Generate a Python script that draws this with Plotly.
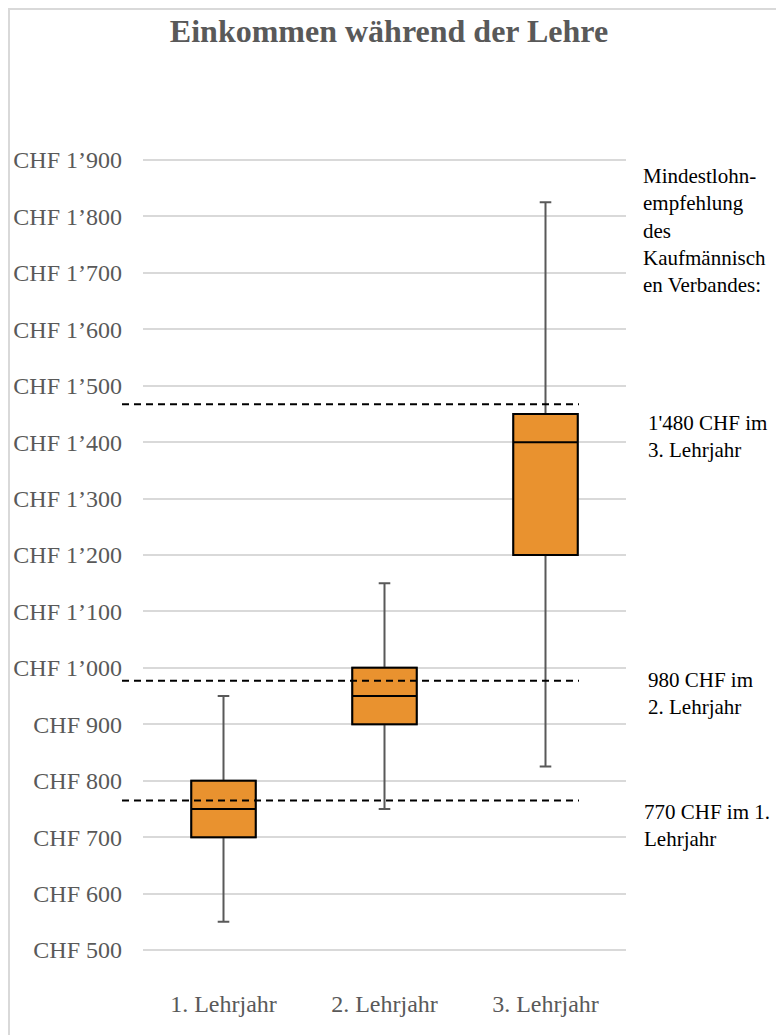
import plotly.graph_objects as go

# ---- data ----
categories = ["1. Lehrjahr", "2. Lehrjahr", "3. Lehrjahr"]
lower_fence = [550, 750, 825]
q1 = [700, 900, 1200]
median = [750, 950, 1400]
q3 = [800, 1000, 1450]
upper_fence = [950, 1150, 1825]

ref_values = [765, 977, 1467]
ref_labels = ["770 CHF im 1.<br>Lehrjahr", "980 CHF im<br>2. Lehrjahr", "1'480 CHF im<br>3. Lehrjahr"]

tick_vals = [500, 600, 700, 800, 900, 1000, 1100, 1200, 1300, 1400, 1500, 1600, 1700, 1800, 1900]
tick_text = ["CHF 500", "CHF 600", "CHF 700", "CHF 800", "CHF 900", "CHF 1\u2019000", "CHF 1\u2019100",
             "CHF 1\u2019200", "CHF 1\u2019300", "CHF 1\u2019400", "CHF 1\u2019500", "CHF 1\u2019600",
             "CHF 1\u2019700", "CHF 1\u2019800", "CHF 1\u2019900"]
y_range = [496.5, 1903.5]

title_text = "Einkommen während der Lehre"
note_text = "Mindestlohn-<br>empfehlung<br>des<br>Kaufmännisch<br>en Verbandes:"

FONT = "Liberation Serif, Times New Roman, serif"
GRAY = "#595959"
ORANGE = "#E9922F"

# figure sits at an 8px page offset
W, H = 776, 1027
L, R, T, B = 114, 158, 150, 83
pw, ph = W - L - R, H - T - B
grid_left = 135      # where the category plot area starts (figure px)
dash_right = 571     # where reference lines end (figure px)


def px_x(px):
    return (px - L) / pw


def px_y(py):
    return (H - B - py) / ph


fig = go.Figure()

# whiskers (gray)
fig.add_trace(go.Box(
    x=categories, q1=q1, median=median, q3=q3,
    lowerfence=lower_fence, upperfence=upper_fence,
    width=0.4, whiskerwidth=0.18,
    line=dict(color=GRAY, width=2), fillcolor=ORANGE,
    boxpoints=False, hoverinfo="skip", showlegend=False,
))
# box (black outline)
fig.add_trace(go.Box(
    x=categories, q1=q1, median=median, q3=q3,
    lowerfence=q1, upperfence=q3,
    width=0.4, whiskerwidth=0,
    line=dict(color="black", width=2), fillcolor=ORANGE,
    boxpoints=False, showlegend=False,
))

# reference dashed lines on an auxiliary overlaid subplot
for v in ref_values:
    fig.add_trace(go.Scatter(
        x=[0, 1], y=[v, v], mode="lines", xaxis="x2", yaxis="y2",
        line=dict(color="black", width=2, dash="7px,5px"),
        hoverinfo="skip", showlegend=False,
    ))

# reference labels
label_centers = [812, 680, 423]   # first-line centres in page px
label_x = [634, 638, 638]
for lab, c, lx in zip(ref_labels, label_centers, label_x):
    fig.add_annotation(text=lab, xref="paper", yref="paper",
                       x=px_x(lx), y=px_y(c - 22), xanchor="left", yanchor="top",
                       align="left", showarrow=False,
                       font=dict(family=FONT, size=21, color="black"))

fig.add_annotation(text=note_text, xref="paper", yref="paper",
                   x=px_x(633), y=px_y(176 - 22), xanchor="left", yanchor="top",
                   align="left", showarrow=False,
                   font=dict(family=FONT, size=21, color="black"))

# chart border
fig.add_shape(type="rect", xref="paper", yref="paper",
              x0=px_x(1), x1=px_x(W + 20), y0=px_y(H + 20), y1=px_y(1),
              line=dict(color="#D9D9D9", width=2), fillcolor="rgba(0,0,0,0)", layer="below")

fig.update_layout(
    width=W, height=H,
    margin=dict(l=L, r=R, t=T, b=B),
    paper_bgcolor="white", plot_bgcolor="rgba(0,0,0,0)",
    boxmode="overlay",
    title=dict(text="<b>" + title_text + "</b>", x=381 / W, xanchor="center",
               y=1 - 23 / H, yanchor="middle", yref="container",
               font=dict(family=FONT, size=32, color=GRAY)),
    font=dict(family=FONT, color=GRAY),
    xaxis=dict(domain=[px_x(grid_left), 1], range=[-0.5, 2.5], showgrid=False,
               zeroline=False, showline=False, ticks="", ticklabelstandoff=35,
               tickfont=dict(family=FONT, size=24, color=GRAY), anchor="y",
               automargin=False),
    yaxis=dict(range=y_range, tickvals=tick_vals, ticktext=tick_text,
               showgrid=True, gridcolor="#D9D9D9", gridwidth=1.5,
               zeroline=False, showline=False, ticks="", ticklabelstandoff=20,
               tickfont=dict(family=FONT, size=24, color=GRAY), anchor="x",
               automargin=False),
    xaxis2=dict(domain=[0, px_x(dash_right)], range=[0, 1], visible=False,
                anchor="y2", fixedrange=True, automargin=False),
    yaxis2=dict(domain=[0, 1], range=y_range, matches="y", visible=False,
                anchor="x2", showgrid=False, automargin=False),
)

fig.write_html("out.html")
